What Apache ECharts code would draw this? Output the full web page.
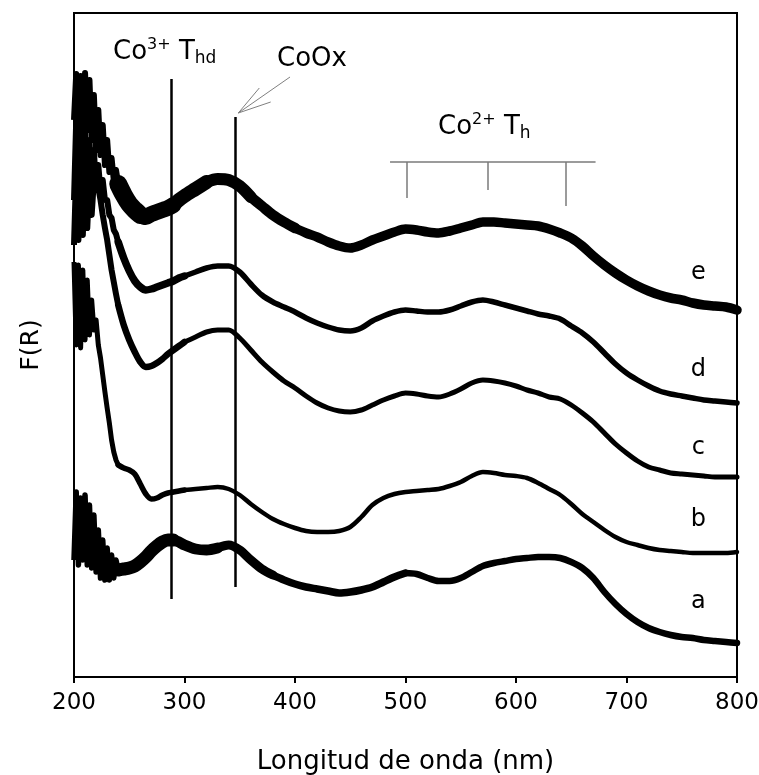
<!DOCTYPE html>
<html><head><meta charset="utf-8">
<script src="https://cdn.jsdelivr.net/npm/echarts@6/dist/echarts.min.js"></script>
<style>html,body{margin:0;padding:0;background:#fff}#c{width:759px;height:775px}</style>
</head><body><div id="c"></div>
<script>
// Wavelength grid (nm): 2 nm in the noisy UV region, coarser above
const wavelength = [200,202,204,206,208,210,212,214,216,218,220,222,224,226,228,230,232,234,236,238,240,
  245,250,255,260,265,270,275,280,285,290,295,300,
  310,320,330,340,350,360,370,380,390,400,410,420,430,440,450,460,470,480,490,500,510,520,530,540,550,560,570,580,590,600,610,620,630,640,650,660,670,680,690,700,710,720,730,740,750,760,770,780,790,800];

// F(R), arbitrary units (curves offset as in the figure)
const curveE = [5.57,6.03,5.42,6.01,5.49,6.04,5.47,5.97,5.37,5.82,5.27,5.67,5.22,5.52,5.12,5.37,5.05,5.19,4.97,5.07,4.93,
  4.82,4.73,4.67,4.62,4.60,4.63,4.65,4.67,4.69,4.72,4.77,4.81,
  4.88,4.95,4.98,4.97,4.91,4.80,4.71,4.62,4.55,4.49,4.44,4.40,4.35,4.31,4.29,4.32,4.37,4.41,4.45,4.48,4.47,4.45,4.44,4.46,4.49,4.52,4.55,4.55,4.54,4.53,4.52,4.51,4.48,4.44,4.39,4.31,4.21,4.12,4.04,3.97,3.91,3.86,3.82,3.79,3.77,3.74,3.72,3.71,3.70,3.67];
const curveD = [4.77,5.57,4.82,5.52,4.87,5.47,4.92,5.37,4.87,5.27,4.87,5.12,4.85,4.97,4.77,4.77,4.62,4.59,4.47,4.43,4.35,
  4.19,4.06,3.96,3.90,3.87,3.88,3.90,3.92,3.94,3.96,3.99,4.01,
  4.05,4.09,4.11,4.11,4.05,3.93,3.82,3.75,3.70,3.65,3.59,3.54,3.50,3.47,3.46,3.49,3.56,3.61,3.65,3.67,3.66,3.65,3.65,3.67,3.71,3.75,3.77,3.75,3.72,3.69,3.66,3.63,3.61,3.58,3.51,3.44,3.35,3.24,3.13,3.04,2.97,2.91,2.86,2.83,2.81,2.79,2.77,2.76,2.75,2.74];
const curveC = [4.32,5.07,4.37,5.02,4.42,5.05,4.49,4.99,4.62,4.97,4.87,4.89,4.77,4.62,4.49,4.37,4.22,4.07,3.95,3.83,3.72,
  3.52,3.37,3.25,3.15,3.10,3.11,3.14,3.18,3.23,3.27,3.31,3.35,
  3.40,3.45,3.47,3.47,3.39,3.27,3.15,3.05,2.96,2.89,2.81,2.74,2.69,2.66,2.65,2.67,2.72,2.77,2.81,2.84,2.83,2.81,2.80,2.83,2.88,2.94,2.97,2.96,2.94,2.91,2.87,2.84,2.80,2.78,2.72,2.64,2.55,2.44,2.33,2.24,2.16,2.10,2.07,2.04,2.03,2.02,2.01,2.00,2.00,2.00];
const curveB = [4.15,3.32,4.12,3.29,4.07,3.37,3.97,3.42,3.77,3.47,3.57,3.32,3.19,3.02,2.85,2.69,2.54,2.37,2.25,2.17,2.12,
  2.09,2.07,2.03,1.93,1.83,1.78,1.79,1.82,1.84,1.85,1.86,1.87,
  1.88,1.89,1.90,1.88,1.82,1.73,1.65,1.58,1.53,1.49,1.46,1.45,1.45,1.46,1.50,1.60,1.72,1.79,1.83,1.85,1.86,1.87,1.88,1.91,1.95,2.01,2.05,2.04,2.02,2.01,1.99,1.94,1.88,1.82,1.73,1.63,1.55,1.47,1.40,1.35,1.32,1.29,1.27,1.26,1.25,1.24,1.24,1.24,1.24,1.25];
const curveA = [1.17,1.85,1.12,1.79,1.17,1.82,1.12,1.72,1.09,1.62,1.05,1.47,0.99,1.37,0.97,1.29,0.97,1.22,0.99,1.17,1.07,
  1.08,1.09,1.11,1.15,1.20,1.26,1.31,1.35,1.37,1.37,1.35,1.32,
  1.28,1.27,1.29,1.32,1.27,1.17,1.08,1.02,0.97,0.93,0.90,0.88,0.86,0.84,0.85,0.87,0.90,0.95,1.00,1.04,1.03,0.99,0.96,0.96,0.99,1.05,1.11,1.14,1.16,1.18,1.19,1.20,1.20,1.19,1.15,1.09,0.99,0.85,0.73,0.63,0.55,0.49,0.45,0.42,0.40,0.39,0.37,0.36,0.35,0.34];

const curveNames = ['a','b','c','d','e'];
const curveValues = [curveA, curveB, curveC, curveD, curveE];
const curveLabelValues = [0.75, 1.57, 2.29, 3.07, 4.04];
const curveLabelWavelength = 765;

// Reference band positions (nm)
const co3Line = 288, coOxLine = 346;
const co2Bands = [501.5, 574, 645];

const FONT = 'DejaVu Sans';

// trace thickness (noise band) per wavelength range: [from, to, width]
const traceWidths = {
  a: [[240, 290, 13], [290, 330, 11], [330, 380, 9], [380, 500, 7.5], [500, 800, 6.5]],
  b: [[240, 300, 5.5], [300, 800, 4.5]],
  c: [[240, 300, 6.5], [300, 800, 5]],
  d: [[240, 300, 7.5], [300, 800, 5.5]],
  e: [[240, 260, 18], [260, 290, 16], [290, 320, 14], [320, 360, 12], [360, 400, 10.5], [400, 800, 9.5]]
};
const noiseWidths = { a: 5.5, b: 5, c: 6, d: 6, e: 6 };

const lineSeries = [];
curveNames.forEach((n, i) => {
  const pts = wavelength.map((w, j) => [w, curveValues[i][j]]);
  lineSeries.push({
    type: 'line', showSymbol: false, smooth: false, silent: true, z: 3,
    data: pts.filter(p => p[0] <= 240),
    lineStyle: { color: '#000', width: noiseWidths[n], join: 'round' }
  });
  traceWidths[n].forEach(([lo, hi, lw]) => {
    lineSeries.push({
      type: 'line', showSymbol: false, smooth: 0.3, silent: true, z: 3,
      data: pts.filter(p => p[0] >= lo && p[0] <= hi),
      lineStyle: { color: '#000', width: lw, cap: 'round', join: 'round' }
    });
  });
});

const textRich = {
  m: { fontSize: 26, fontFamily: FONT, color: '#000', lineHeight: 30 },
  sup: { fontSize: 16, fontFamily: FONT, color: '#000', lineHeight: 16, verticalAlign: 'top' },
  sub: { fontSize: 17, fontFamily: FONT, color: '#000', lineHeight: 16, verticalAlign: 'bottom' }
};

function textPoint(wl, v, fmt) {
  return {
    type: 'scatter', symbolSize: 0, silent: true, z: 5,
    itemStyle: { opacity: 1 },
    data: [[wl, v]],
    label: { show: true, position: 'right', distance: 0, color: '#000', formatter: fmt, rich: textRich }
  };
}

const option = {
  animation: false,
  backgroundColor: '#fff',
  grid: { left: 74, right: 22, top: 13, bottom: 98, outerBoundsMode: 'none', containLabel: false,
    show: true, borderColor: '#000', borderWidth: 2 },
  xAxis: {
    type: 'value', min: 200, max: 800, interval: 100,
    name: 'Longitud de onda (nm)', nameLocation: 'middle', nameGap: 72,
    nameTextStyle: { fontSize: 26, fontFamily: FONT, color: '#000' },
    axisLine: { lineStyle: { color: '#000', width: 2 } },
    axisTick: { show: true, inside: false, length: 6, lineStyle: { color: '#000', width: 2 } },
    axisLabel: { fontSize: 23, fontFamily: FONT, color: '#000', margin: 15 },
    splitLine: { show: false }
  },
  yAxis: {
    type: 'value', min: 0, max: 6.64,
    name: 'F(R)', nameLocation: 'middle', nameGap: 30,
    nameTextStyle: { fontSize: 25, fontFamily: FONT, color: '#000' },
    axisLine: { show: true, lineStyle: { color: '#000', width: 2 } },
    axisTick: { show: false }, axisLabel: { show: false }, splitLine: { show: false }
  },
  series: [
    ...lineSeries,
    { // vertical reference lines
      type: 'line', data: [], silent: true,
      markLine: { silent: true, symbol: ['none', 'none'], label: { show: false },
        lineStyle: { color: '#000', width: 2.5, type: 'solid' },
        data: [
          [{ coord: [co3Line, 0.78] }, { coord: [co3Line, 5.98] }],
          [{ coord: [coOxLine, 0.90] }, { coord: [coOxLine, 5.60] }]
        ] }
    },
    { // Co2+ bracket
      type: 'line', showSymbol: false, silent: true, data: [[486, 5.15], [672, 5.15]],
      lineStyle: { color: '#7a7a7a', width: 1.5 },
      markLine: { silent: true, symbol: ['none', 'none'], label: { show: false },
        lineStyle: { color: '#7a7a7a', width: 1.5, type: 'solid' },
        data: [
          [{ coord: [co2Bands[0], 5.15] }, { coord: [co2Bands[0], 4.79] }],
          [{ coord: [co2Bands[1], 5.15] }, { coord: [co2Bands[1], 4.87] }],
          [{ coord: [co2Bands[2], 5.15] }, { coord: [co2Bands[2], 4.71] }]
        ] }
    },
    { // arrow shaft
      type: 'line', showSymbol: false, silent: true, data: [[395.5, 6.00], [348.7, 5.64]],
      lineStyle: { color: '#808080', width: 1 }
    },
    { // arrow head
      type: 'line', showSymbol: false, silent: true, data: [[367.7, 5.89], [348.7, 5.64], [378, 5.75]],
      lineStyle: { color: '#808080', width: 1 }
    },
    textPoint(235.3, 6.25, '{m|Co}{sup|3+}{m| T}{sub|hd}'),
    textPoint(383.7, 6.18, '{m|CoOx}'),
    textPoint(529.4, 5.50, '{m|Co}{sup|2+}{m| T}{sub|h}'),
    {
      type: 'scatter', symbolSize: 0, silent: true, z: 5,
      itemStyle: { opacity: 1 },
      data: curveNames.map((n, i) => ({ value: [curveLabelWavelength, curveLabelValues[i]], name: n })),
      label: { show: true, position: 'inside', formatter: p => p.name, fontSize: 24, fontFamily: FONT, color: '#000' }
    }
  ]
};

const chart = echarts.init(document.getElementById('c'), null, { renderer: 'canvas' });
chart.setOption(option);
</script>
</body></html>
